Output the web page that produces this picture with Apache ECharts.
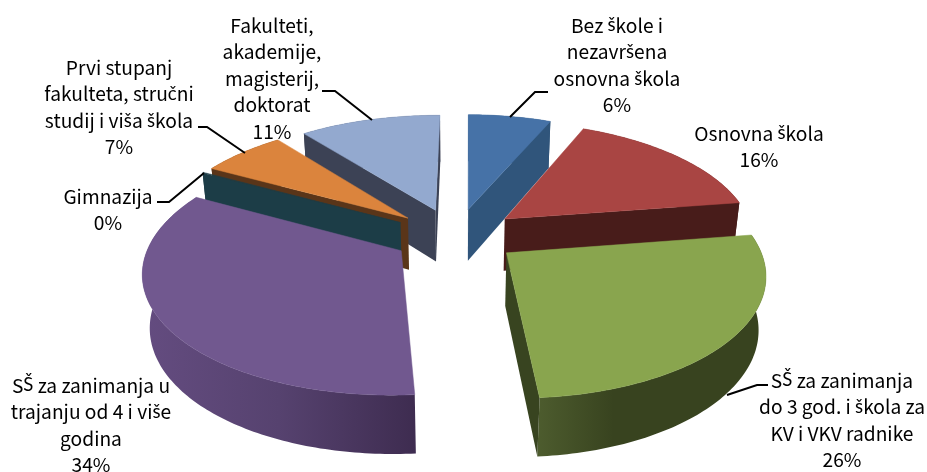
<!DOCTYPE html>
<html>
<head>
<meta charset="utf-8">
<style>
html, body { margin: 0; padding: 0; background: #fff; }
#chart { width: 927px; height: 472px; }
</style>
<script src="https://cdn.jsdelivr.net/npm/echarts@6/dist/echarts.min.js"></script>
</head>
<body>
<div id="chart"></div>
<script>
// percentages, clockwise from the top
const categories = [
    'Bez \u0161kole i\nnezavr\u0161ena\nosnovna \u0161kola',
    'Osnovna \u0161kola',
    'S\u0160 za zanimanja\ndo 3 god. i \u0161kola za\nKV i VKV radnike',
    'S\u0160 za zanimanja u\ntrajanju od 4 i vi\u0161e\ngodina',
    'Gimnazija',
    'Prvi stupanj\nfakulteta, stru\u010dni\nstudij i vi\u0161a \u0161kola',
    'Fakulteti,\nakademije,\nmagisterij,\ndoktorat'
]
const values = [6.4, 16.3, 26.4, 34.4, 0.1, 6.5, 10.9]

const topColors = ['#4672a7', '#a94543', '#89a54e', '#71588f', '#1c3d47', '#db843d', '#93a9cf']
const wallColors = ['#30557b', '#481c1a', '#384420', '#3f2c52', '#1c3d47', '#5a3519', '#3c4255']
const outerStops = [
    ['#30557b', '#30557b'],
    ['#481c1a', '#481c1a'],
    ['#4d5c2e', '#38431f', '#38431f', '#38431f'],
    ['#644c80', '#56426f', '#3e2c50'],
    ['#1c3d47', '#1c3d47'],
    ['#5a3519', '#5a3519'],
    ['#3c4255', '#3c4255']
]

// label centre x, first line y
const labelPos = [[617, 12], [759, 120], [842, 367], [91, 372], [108, 183], [119, 54], [272, 12]]
// leader lines, from the text to the slice
const leaders = [
    [[548, 92], [535, 92], [510, 117]],
    null,
    [[768, 385], [757, 385], [727, 395]],
    null,
    [[157, 202], [169, 202], [204, 173]],
    [[198, 127], [207, 127], [245, 153]],
    [[322, 91], [335, 91], [372, 120]]
]

// projection of the tilted disc (radius 1)
const firstAngle = 0.5
const explodeX = 0.255, explodeZ = 0.235
const cx = 455.5, cy = 235.4
const A = 756, B = 1612, D = 6.47
const H = 347, shrink = 0.15

function topPoint(x, z) {
    return [cx + B * x / (D - z), cy + A * z / (D - z)]
}
function bottomPoint(x, z) {
    let q = D - z + shrink
    return [cx + B * x / q, cy + (A * z + H) / q]
}
function area(pts) {
    let s = 0
    for (let i = 0; i < pts.length; i++) {
        let a = pts[i], b = pts[(i + 1) % pts.length]
        s += a[0] * b[1] - b[0] * a[1]
    }
    return s
}

// the CJK font misplaces the caron, so these letters come from Lato
function richLabel(text) {
    return text.split('\n').map(function (line) {
        return line.split(/([\u0161\u0160\u010d]+)/).filter(p => p).map(function (p) {
            return (/[\u0161\u0160\u010d]/.test(p) ? '{a|' : '{n|') + p + '}'
        }).join('')
    }).join('\n')
}

const total = values.reduce((a, b) => a + b, 0)
let cum = 0
const slices = values.map(function (v) {
    let start = firstAngle + cum / total * 360
    cum += v
    let end = firstAngle + cum / total * 360
    let mid = (start + end) / 2 * Math.PI / 180
    return { start: start, end: end, ox: explodeX * Math.sin(mid), oz: -explodeZ * Math.cos(mid) }
})

function renderSlice(params) {
    let i = params.dataIndex
    let s = slices[i]
    // back to front
    let base = Math.round((s.oz + 1) * 1000) * 10
    let rim = []
    let n = Math.max(2, Math.ceil(s.end - s.start))
    for (let k = 0; k <= n; k++) {
        let t = (s.start + (s.end - s.start) * k / n) * Math.PI / 180
        rim.push([s.ox + Math.sin(t), s.oz - Math.cos(t)])
    }
    let rimTop = rim.map(p => topPoint(p[0], p[1]))
    let rimBottom = rim.map(p => bottomPoint(p[0], p[1]))
    let apexTop = topPoint(s.ox, s.oz)
    let apexBottom = bottomPoint(s.ox, s.oz)
    let children = []

    // only the front part of the rim shows
    let stops = outerStops[i]
    children.push({
        type: 'polygon',
        z2: base,
        shape: { points: rimTop.concat(rimBottom.slice().reverse()) },
        style: {
            fill: new echarts.graphic.LinearGradient(0, 0, 1, 0,
                stops.map((c, k) => ({ offset: k / (stops.length - 1), color: c })))
        }
    })

    let startWall = [apexTop, rimTop[0], rimBottom[0], apexBottom]
    let endWall = [apexTop, apexBottom, rimBottom[n], rimTop[n]]
    if (area(startWall) < 0) {
        children.push({ type: 'polygon', z2: base + 1, shape: { points: startWall }, style: { fill: wallColors[i] } })
    }
    if (area(endWall) < 0) {
        children.push({ type: 'polygon', z2: base + 1, shape: { points: endWall }, style: { fill: wallColors[i] } })
    }
    children.push({
        type: 'polygon',
        z2: base + 2,
        shape: { points: [apexTop].concat(rimTop) },
        style: { fill: topColors[i], stroke: topColors[i], lineWidth: 0.5 }
    })

    if (leaders[i]) {
        children.push({
            type: 'polyline',
            z2: 20000,
            shape: { points: leaders[i] },
            style: { stroke: '#000', lineWidth: 2, fill: null }
        })
    }
    children.push({
        type: 'text',
        z2: 20001,
        x: labelPos[i][0],
        y: labelPos[i][1],
        style: {
            text: richLabel(categories[i] + '\n' + Math.round(values[i]) + '%'),
            align: 'center',
            verticalAlign: 'top',
            rich: {
                n: { fontFamily: '"Noto Sans CJK SC"', fontSize: 19.2, lineHeight: 26.6, fill: '#000' },
                a: { fontFamily: 'Lato', fontSize: 18.6, lineHeight: 26.6, fill: '#000' }
            }
        }
    })
    return { type: 'group', children: children }
}

let myChart = echarts.init(document.getElementById('chart'))
let option = {
    animation: false,
    backgroundColor: '#fff',
    series: [{
        type: 'custom',
        coordinateSystem: 'none',
        renderItem: renderSlice,
        data: values,
        silent: true
    }]
}
myChart.setOption(option)
</script>
</body>
</html>
